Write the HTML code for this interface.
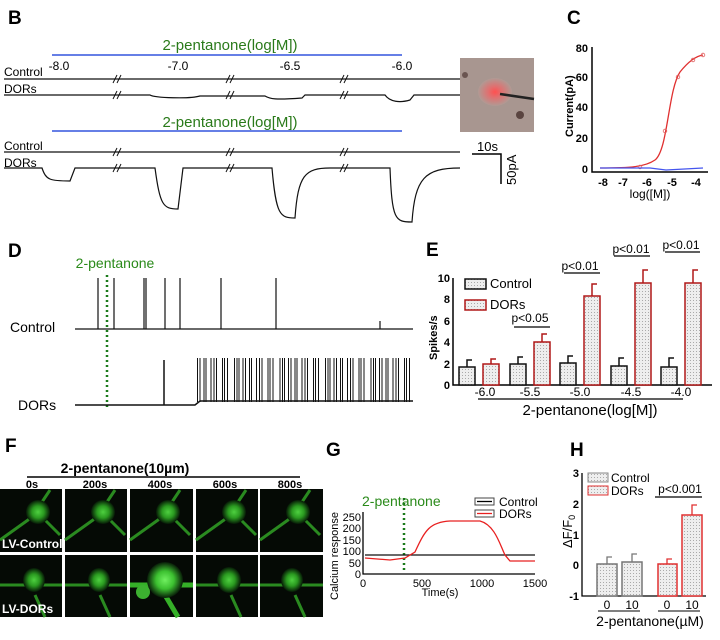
<!DOCTYPE html>
<html><head><meta charset="utf-8"><style>
html,body{margin:0;padding:0;background:#fff}
svg{display:block}
text{font-family:"Liberation Sans",Arial,sans-serif}
.b{font-weight:bold}
</style></head><body>
<svg width="720" height="640" viewBox="0 0 720 640" xmlns="http://www.w3.org/2000/svg">
<defs>
<pattern id="dot" width="3" height="3" patternUnits="userSpaceOnUse"><rect width="3" height="3" fill="#eee"/><rect width="1" height="1" fill="#aaa"/></pattern>
<radialGradient id="cell" cx="0.5" cy="0.5" r="0.5"><stop offset="0" stop-color="#4ed040"/><stop offset="0.5" stop-color="#2a9a20"/><stop offset="1" stop-color="#061806"/></radialGradient>
<radialGradient id="cellb" cx="0.5" cy="0.5" r="0.5"><stop offset="0" stop-color="#70f060"/><stop offset="0.5" stop-color="#3cc030"/><stop offset="1" stop-color="#081c08"/></radialGradient>
<radialGradient id="pink" cx="0.5" cy="0.5" r="0.5"><stop offset="0" stop-color="#ff5050"/><stop offset="0.4" stop-color="#e07070"/><stop offset="1" stop-color="#b09a94"/></radialGradient>
</defs>

<!-- Panel B -->
<text x="8" y="24" font-size="19" class="b">B</text>
<text x="230" y="50" font-size="15" fill="#2a7a1a" text-anchor="middle">2-pentanone(log[M])</text>
<line x1="52" y1="55" x2="402" y2="55" stroke="#3355dd" stroke-width="1.5"/>
<g font-size="12" text-anchor="middle"><text x="59" y="70">-8.0</text><text x="178" y="70">-7.0</text><text x="290" y="70">-6.5</text><text x="402" y="70">-6.0</text></g>
<g font-size="12"><text x="4" y="76">Control</text><text x="4" y="93">DORs</text><text x="4" y="150">Control</text><text x="4" y="167">DORs</text></g>
<g fill="none" stroke="#111" stroke-width="1.2">
<path d="M4 79H460"/>
<path d="M4 95H150C155 98 190 99 200 96H265C270 99 275 100 302 98L305 95H385C390 102 400 103 410 100L414 95H460"/>
<path d="M4 152H460"/>
<path d="M4 168H42C46 180 50 181 70 181L75 168H155C160 205 163 209 178 209L183 168H272C276 215 280 218 295 218C298 175 305 168 330 168H390C392 220 395 222 412 222C415 178 425 168 460 168"/>
</g>
<g stroke="#111" stroke-width="1"><line x1="113" y1="83" x2="117" y2="75"/><line x1="117" y1="83" x2="121" y2="75"/><line x1="226" y1="83" x2="230" y2="75"/><line x1="230" y1="83" x2="234" y2="75"/><line x1="340" y1="83" x2="344" y2="75"/><line x1="344" y1="83" x2="348" y2="75"/>
<line x1="113" y1="99" x2="117" y2="91"/><line x1="117" y1="99" x2="121" y2="91"/><line x1="226" y1="99" x2="230" y2="91"/><line x1="230" y1="99" x2="234" y2="91"/><line x1="340" y1="99" x2="344" y2="91"/><line x1="344" y1="99" x2="348" y2="91"/>
<line x1="113" y1="156" x2="117" y2="148"/><line x1="117" y1="156" x2="121" y2="148"/><line x1="226" y1="156" x2="230" y2="148"/><line x1="230" y1="156" x2="234" y2="148"/><line x1="340" y1="156" x2="344" y2="148"/><line x1="344" y1="156" x2="348" y2="148"/>
<line x1="113" y1="172" x2="117" y2="164"/><line x1="117" y1="172" x2="121" y2="164"/><line x1="226" y1="172" x2="230" y2="164"/><line x1="230" y1="172" x2="234" y2="164"/><line x1="340" y1="172" x2="344" y2="164"/><line x1="344" y1="172" x2="348" y2="164"/></g>
<text x="230" y="127" font-size="15" fill="#2a7a1a" text-anchor="middle">2-pentanone(log[M])</text>
<line x1="52" y1="131" x2="402" y2="131" stroke="#3355dd" stroke-width="1.5"/>
<!-- image -->
<rect x="460" y="58" width="74" height="74" fill="#a89690"/>
<ellipse cx="495" cy="92" rx="17" ry="14" fill="url(#pink)"/>
<line x1="500" y1="94" x2="534" y2="99" stroke="#222" stroke-width="2.5"/>
<circle cx="520" cy="115" r="4" fill="#5a4440"/><circle cx="465" cy="75" r="3" fill="#6a5450"/>
<!-- scale -->
<text x="477" y="151" font-size="13">10s</text>
<path d="M472 154H501V184" fill="none" stroke="#000" stroke-width="1.5"/>
<text transform="translate(516 185) rotate(-90)" font-size="13">50pA</text>

<!-- Panel C -->
<text x="567" y="24" font-size="19" class="b">C</text>
<g font-size="11" class="b" text-anchor="end"><text x="588" y="52">80</text><text x="588" y="81">60</text><text x="588" y="111">40</text><text x="588" y="142">20</text><text x="588" y="173">0</text></g>
<path d="M592 47V172H708" fill="none" stroke="#000" stroke-width="1.5"/>
<g font-size="11" class="b" text-anchor="middle"><text x="603" y="186">-8</text><text x="623" y="186">-7</text><text x="647" y="186">-6</text><text x="672" y="186">-5</text><text x="696" y="186">-4</text></g>
<text x="650" y="198" font-size="12" text-anchor="middle">log([M])</text>
<text transform="translate(573 137) rotate(-90)" font-size="11" class="b">Current(pA)</text>
<path d="M600 168C630 168 645 167 655 160C668 150 668 90 680 72C688 62 696 56 703 55" fill="none" stroke="#e03030" stroke-width="1.3"/>
<g fill="none" stroke="#e06060" stroke-width="0.8"><circle cx="665" cy="131" r="1.8"/><circle cx="678" cy="77" r="1.8"/><circle cx="693" cy="60" r="1.8"/><circle cx="703" cy="55" r="1.8"/><circle cx="640" cy="167" r="1.8"/></g>
<path d="M600 168L650 168L666 170L703 168" fill="none" stroke="#4455ee" stroke-width="1.2"/>

<!-- Panel D -->
<text x="8" y="257" font-size="19" class="b">D</text>
<text x="115" y="268" font-size="14" fill="#2a8a1a" text-anchor="middle">2-pentanone</text>
<line x1="107" y1="275" x2="107" y2="410" stroke="#1a7a1a" stroke-width="2.5" stroke-dasharray="2 3"/>
<text x="10" y="332" font-size="14">Control</text>
<text x="18" y="410" font-size="14">DORs</text>
<path d="M75 329H413M98 329V278M114 329V278M144 329V278M146 329V278M165 329V278M180 329V278M221 329V278M276 329V278M380 329V321" fill="none" stroke="#111" stroke-width="1.2"/>
<path d="M75 405H195L200 401H413M164 405V360" fill="none" stroke="#111" stroke-width="1.5"/>
<line x1="197" y1="380" x2="410" y2="380" stroke="#111" stroke-width="44" stroke-dasharray="1 1.5 1 3 1 1 1 4 1 2 1 1.5 1 5 1 1 1 2 1 6 1 1.5 1 1 1 3"/>

<!-- Panel E -->
<text x="426" y="256" font-size="19" class="b">E</text>
<g font-size="11" class="b" text-anchor="end"><text x="450" y="282">10</text><text x="450" y="303">8</text><text x="450" y="325">6</text><text x="450" y="346">4</text><text x="450" y="368">2</text><text x="450" y="389">0</text></g>
<text transform="translate(437 360) rotate(-90)" font-size="11" class="b">Spikes/s</text>
<path d="M453 278V385H712" fill="none" stroke="#000" stroke-width="1.5"/>
<g stroke-width="1.5">
<g stroke="#111" fill="url(#dot)">
<rect x="459" y="367" width="16" height="18"/><rect x="510" y="364" width="16" height="21"/><rect x="560" y="363" width="16" height="22"/><rect x="611" y="366" width="16" height="19"/><rect x="661" y="367" width="16" height="18"/>
</g>
<g stroke="#b01818" fill="url(#dot)">
<rect x="483" y="364" width="16" height="21"/><rect x="534" y="342" width="16" height="43"/><rect x="584" y="296" width="16" height="89"/><rect x="635" y="283" width="16" height="102"/><rect x="685" y="283" width="16" height="102"/>
</g>
<path d="M467 367V360H472M518 364V357H523M568 363V356H573M619 366V358H624M669 367V358H674" fill="none" stroke="#111"/>
<path d="M491 364V359H496M542 342V334H547M592 296V284H597M643 283V270H648M693 283V270H698" fill="none" stroke="#b01818"/>
</g>
<g font-size="12" text-anchor="middle"><text x="530" y="322">p&lt;0.05</text><text x="580" y="270">p&lt;0.01</text><text x="631" y="253">p&lt;0.01</text><text x="681" y="249">p&lt;0.01</text></g>
<path d="M514 327H550M564 273H600M614 256H650M665 252H700" stroke="#000" stroke-width="1.2"/>
<rect x="465" y="279" width="21" height="10" fill="url(#dot)" stroke="#111" stroke-width="1.5"/>
<rect x="465" y="300" width="21" height="10" fill="url(#dot)" stroke="#b01818" stroke-width="1.5"/>
<text x="490" y="288" font-size="13">Control</text><text x="490" y="309" font-size="13">DORs</text>
<g font-size="12" text-anchor="middle"><text x="485" y="396">-6.0</text><text x="530" y="396">-5.5</text><text x="580" y="396">-5.0</text><text x="631" y="396">-4.5</text><text x="681" y="396">-4.0</text></g>
<line x1="478" y1="399" x2="683" y2="399" stroke="#000" stroke-width="1.3"/>
<text x="590" y="415" font-size="15" text-anchor="middle">2-pentanone(log[M])</text>

<!-- Panel F -->
<text x="5" y="452" font-size="19" class="b">F</text>
<text x="125" y="473" font-size="14" class="b" text-anchor="middle">2-pentanone(10µm)</text>
<line x1="27" y1="477" x2="300" y2="477" stroke="#000" stroke-width="1.5"/>
<g font-size="11" class="b" text-anchor="middle"><text x="32" y="488">0s</text><text x="95" y="488">200s</text><text x="160" y="488">400s</text><text x="225" y="488">600s</text><text x="290" y="488">800s</text></g>
<g fill="#050a05">
<rect x="0" y="489" width="62" height="63"/><rect x="65" y="489" width="62" height="63"/><rect x="130" y="489" width="63" height="63"/><rect x="196" y="489" width="62" height="63"/><rect x="260" y="489" width="63" height="63"/>
<rect x="0" y="555" width="62" height="62"/><rect x="65" y="555" width="62" height="62"/><rect x="130" y="555" width="63" height="62"/><rect x="196" y="555" width="62" height="62"/><rect x="260" y="555" width="63" height="62"/>
</g>
<g stroke="#2a8a20" stroke-width="3" fill="none">
<path d="M0 540L35 515M40 505L50 490M45 520L60 535"/><path d="M65 540L100 515M105 505L115 490M110 520L125 535"/><path d="M130 540L165 515M170 505L180 490M175 520L190 535"/><path d="M196 540L231 515M236 505L246 490M241 520L256 535"/><path d="M260 540L295 515M300 505L310 490M305 520L320 535"/>
<path d="M0 585H62M35 595L45 617"/><path d="M65 585H127M100 595L110 617"/><path d="M130 585H193M165 595L178 617" stroke-width="5" stroke="#35b028"/><path d="M196 585H258M231 595L241 617"/><path d="M260 585H323M295 595L305 617"/>
</g>
<g fill="url(#cell)">
<ellipse cx="38" cy="512" rx="12" ry="12"/><ellipse cx="103" cy="512" rx="12" ry="12"/><ellipse cx="168" cy="512" rx="12" ry="12"/><ellipse cx="234" cy="512" rx="12" ry="12"/><ellipse cx="298" cy="512" rx="12" ry="12"/>
<ellipse cx="34" cy="580" rx="11" ry="12"/><ellipse cx="99" cy="580" rx="11" ry="12"/><ellipse cx="229" cy="580" rx="12" ry="13"/><ellipse cx="292" cy="580" rx="11" ry="12"/>
</g>
<ellipse cx="165" cy="580" rx="18" ry="18" fill="url(#cellb)"/><circle cx="143" cy="592" r="7" fill="#3cb030"/>
<g font-size="12" class="b" fill="#fff"><text x="2" y="548">LV-Control</text><text x="2" y="613">LV-DORs</text></g>

<!-- Panel G -->
<text x="326" y="456" font-size="19" class="b">G</text>
<text transform="translate(338 600) rotate(-90)" font-size="11">Calcium response</text>
<g font-size="11" text-anchor="end"><text x="361" y="521">250</text><text x="361" y="532">200</text><text x="361" y="544">150</text><text x="361" y="555">100</text><text x="361" y="567">50</text><text x="361" y="578">0</text></g>
<path d="M363 512V574H535" fill="none" stroke="#000" stroke-width="1.3"/>
<g font-size="11" text-anchor="middle"><text x="363" y="587">0</text><text x="422" y="587">500</text><text x="482" y="587">1000</text><text x="535" y="587">1500</text></g>
<text x="440" y="596" font-size="11" text-anchor="middle">Time(s)</text>
<text x="362" y="506" font-size="14" fill="#2a8a1a">2-pentanone</text>
<line x1="404" y1="498" x2="404" y2="572" stroke="#1a7a1a" stroke-width="2.5" stroke-dasharray="2 3"/>
<path d="M365 555H535" stroke="#111" stroke-width="1.3"/>
<path d="M365 558L390 560L405 558L415 552C425 530 430 522 450 521H480C495 525 500 545 505 555L510 561H535" fill="none" stroke="#e82020" stroke-width="1.3"/>
<rect x="475" y="498" width="19" height="7" fill="#fff" stroke="#444"/><line x1="477" y1="501.5" x2="492" y2="501.5" stroke="#000" stroke-width="1.3"/>
<rect x="475" y="510" width="19" height="7" fill="#fff" stroke="#444"/><line x1="477" y1="513.5" x2="492" y2="513.5" stroke="#e82020" stroke-width="1.3"/>
<text x="499" y="506" font-size="12">Control</text><text x="499" y="518" font-size="12">DORs</text>

<!-- Panel H -->
<text x="570" y="456" font-size="19" class="b">H</text>
<g font-size="11" class="b" text-anchor="end"><text x="579" y="477">3</text><text x="579" y="508">2</text><text x="579" y="539">1</text><text x="579" y="569">0</text><text x="579" y="600">-1</text></g>
<text transform="translate(572 548) rotate(-90)" font-size="13">ΔF/F<tspan font-size="9" dy="3">0</tspan></text>
<path d="M582 473V596H706" fill="none" stroke="#000" stroke-width="1.3"/>
<g fill="url(#dot)" stroke-width="1.5">
<rect x="597" y="564" width="20" height="32" stroke="#777"/><rect x="622" y="562" width="20" height="34" stroke="#777"/>
<rect x="658" y="564" width="19" height="32" stroke="#e03030"/><rect x="682" y="515" width="20" height="81" stroke="#e03030"/>
</g>
<path d="M607 564V557H612M632 562V554H637" fill="none" stroke="#777" stroke-width="1.3"/>
<path d="M667 564V559H672M692 515V505H697" fill="none" stroke="#e03030" stroke-width="1.3"/>
<rect x="588" y="473" width="20" height="9" fill="url(#dot)" stroke="#888"/>
<rect x="588" y="486" width="20" height="9" fill="url(#dot)" stroke="#e03030"/>
<text x="611" y="482" font-size="12">Control</text><text x="611" y="495" font-size="12">DORs</text>
<text x="680" y="493" font-size="12" text-anchor="middle">p&lt;0.001</text>
<line x1="655" y1="497" x2="702" y2="497" stroke="#000" stroke-width="1.2"/>
<g font-size="12" text-anchor="middle"><text x="607" y="609">0</text><text x="632" y="609">10</text><text x="667" y="609">0</text><text x="692" y="609">10</text></g>
<path d="M598 611H640M658 611H700" stroke="#000"/>
<text x="650" y="626" font-size="14" text-anchor="middle">2-pentanone(µM)</text>
</svg>
</body></html>
